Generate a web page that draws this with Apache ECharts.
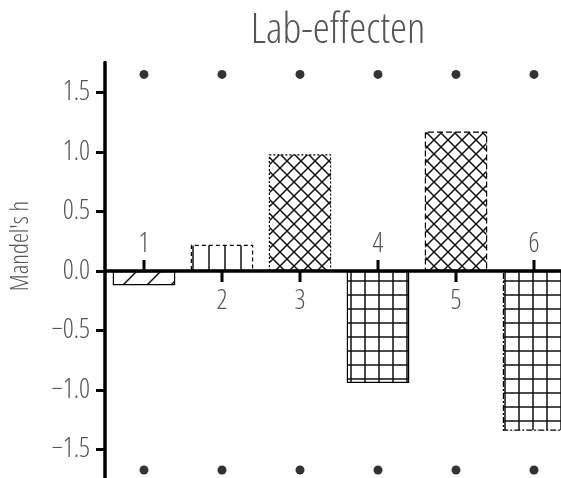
<!DOCTYPE html>
<html>
<head>
<meta charset="utf-8">
<title>Lab-effecten</title>
<script src="https://cdn.jsdelivr.net/npm/echarts@6/dist/echarts.min.js"></script>
<style>
  html, body { margin: 0; padding: 0; background: #fff; }
  #chart { width: 561px; height: 478px; }
</style>
</head>
<body>
<div id="chart"></div>
<script>
// Labs and their between-lab consistency statistic (Mandel's h)
const labs = ['1', '2', '3', '4', '5', '6'];
const mandelH = [-0.12, 0.22, 0.98, -0.94, 1.17, -1.34];

// Critical-value markers above and below each lab
const upperCritical = [1.65, 1.65, 1.65, 1.65, 1.65, 1.65];
const lowerCritical = [-1.67, -1.67, -1.67, -1.67, -1.67, -1.67];

// Y-axis tick values
const yTicks = [-1.5, -1.0, -0.5, 0.0, 0.5, 1.0, 1.5];

// Thin, narrow lettering
const FONT = "'Open Sans', 'Roboto', sans-serif";
const WEIGHT = '300 condensed';
const TEXT_GRAY = '#555';

// Hatch fills drawn on small tiles
function tile(size, draw) {
  const c = document.createElement('canvas');
  c.width = size; c.height = size;
  const ctx = c.getContext('2d');
  ctx.fillStyle = '#fff';
  ctx.fillRect(0, 0, size, size);
  ctx.strokeStyle = '#111';
  ctx.lineWidth = 1.5;
  ctx.beginPath();
  draw(ctx, size);
  ctx.stroke();
  return { image: c, repeat: 'repeat' };
}
function seg(ctx, x1, y1, x2, y2) { ctx.moveTo(x1, y1); ctx.lineTo(x2, y2); }

const slash = tile(24, (ctx, s) => {
  seg(ctx, -2, s + 2, s + 2, -2);
  seg(ctx, -s, s, s, -s);
  seg(ctx, 0, 2 * s, 2 * s, 0);
});
const verticals = tile(16, (ctx, s) => { seg(ctx, 1, 0, 1, s); });
const crossDiag = tile(14, (ctx, s) => {
  seg(ctx, -2, -2, s + 2, s + 2);
  seg(ctx, -2, s + 2, s + 2, -2);
});
const squares = tile(14, (ctx, s) => {
  seg(ctx, 1, 0, 1, s);
  seg(ctx, 0, 1, s, 1);
});

const barStyles = [
  { color: slash, borderType: 'solid' },
  { color: verticals, borderType: [4, 3] },
  { color: crossDiag, borderType: [2, 2] },
  { color: squares, borderType: 'solid' },
  { color: crossDiag, borderType: [6, 3] },
  { color: squares, borderType: [6, 2, 2, 2] }
];

const chart = echarts.init(document.getElementById('chart'), null, { renderer: 'canvas' });

chart.setOption({
  animation: false,
  backgroundColor: '#fff',
  title: {
    text: 'Lab-effecten',
    left: 338,
    top: 9,
    padding: 0,
    textAlign: 'center',
    textStyle: { fontFamily: FONT, fontSize: 43, fontWeight: WEIGHT, color: TEXT_GRAY }
  },
  grid: { left: 105, top: 62.5, width: 468, height: 417, outerBoundsMode: 'none', containLabel: false },
  xAxis: {
    type: 'category',
    data: labs,
    boundaryGap: true,
    z: 3,
    axisLine: { onZero: true, lineStyle: { color: '#000', width: 3.5 } },
    axisTick: { show: false },
    axisLabel: { show: false },
    splitLine: { show: false }
  },
  yAxis: {
    type: 'value',
    min: -1.75,
    max: 1.75,
    z: 3,
    name: "Mandel's h",
    nameLocation: 'middle',
    nameGap: 72,
    nameTextStyle: { fontFamily: FONT, fontSize: 25, fontWeight: WEIGHT, color: TEXT_GRAY, padding: [0, 0, 0, 50] },
    axisLine: { show: true, lineStyle: { color: '#000', width: 3.5 } },
    axisTick: { show: true, customValues: yTicks, length: 9, lineStyle: { color: '#000', width: 3 } },
    axisLabel: {
      customValues: yTicks,
      margin: 15,
      fontFamily: FONT,
      fontWeight: WEIGHT,
      fontSize: 27,
      color: TEXT_GRAY,
      formatter: v => Number(v).toFixed(1).replace('-', '\u2212')
    },
    splitLine: { show: false }
  },
  series: [
    {
      type: 'bar',
      barWidth: '80%',
      z: 2,
      data: mandelH.map((v, i) => ({
        value: v,
        itemStyle: {
          color: barStyles[i].color,
          borderColor: '#000',
          borderWidth: 1.2,
          borderType: barStyles[i].borderType
        }
      }))
    },
    {
      type: 'scatter',
      symbol: 'circle',
      symbolSize: 9,
      itemStyle: { color: '#000' },
      data: upperCritical
    },
    {
      type: 'scatter',
      symbol: 'circle',
      symbolSize: 9,
      itemStyle: { color: '#000' },
      data: lowerCritical
    },
    {
      // Lab number and tick on the zero line, opposite side of each bar
      type: 'custom',
      z: 4,
      data: mandelH.map((v, i) => [i, v]),
      encode: { x: 0, y: 1 },
      renderItem: function (params, api) {
        const i = api.value(0);
        const v = api.value(1);
        const p = api.coord([i, 0]);
        const up = v < 0;
        return {
          type: 'group',
          children: [
            {
              type: 'line',
              shape: { x1: p[0], y1: p[1], x2: p[0], y2: p[1] + (up ? -11 : 11) },
              style: { stroke: '#000', lineWidth: 3 }
            },
            {
              type: 'text',
              style: {
                text: labs[i],
                x: p[0],
                y: p[1] + (up ? -27 : 30),
                align: 'center',
                verticalAlign: 'middle',
                fontFamily: FONT,
                fontWeight: WEIGHT,
                fontSize: 27,
                fill: TEXT_GRAY
              }
            }
          ]
        };
      }
    }
  ]
});
</script>
</body>
</html>
